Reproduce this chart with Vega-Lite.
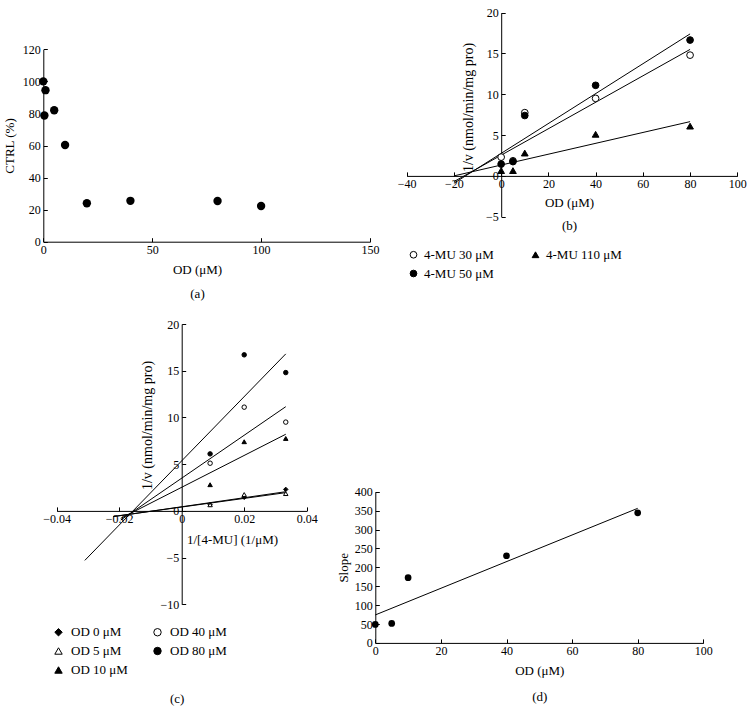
{
  "$schema": "https://vega.github.io/schema/vega-lite/v6.json",
  "width": 755,
  "height": 713,
  "autosize": "none",
  "padding": 0,
  "background": "white",
  "config": {
    "font": "Liberation Serif",
    "view": {"stroke": null},
    "axis": {
      "grid": false,
      "domainColor": "black",
      "tickColor": "black",
      "labelColor": "black",
      "titleColor": "black",
      "labelFont": "Liberation Serif",
      "titleFont": "Liberation Serif",
      "labelFontSize": 12,
      "titleFontSize": 13,
      "titleFontWeight": "normal",
      "tickSize": -4,
      "labelPadding": 7,
      "labelFlush": false,
      "labelOverlap": false,
      "titlePadding": 7,
      "domainWidth": 1,
      "tickWidth": 1,
      "format": "d"
    },
    "legend": {
      "labelFont": "Liberation Serif",
      "labelFontSize": 13,
      "labelColor": "black",
      "padding": 0,
      "symbolStrokeColor": "black",
      "symbolStrokeWidth": 1,
      "rowPadding": 5,
      "columns": 2
    },
    "title": {"font": "Liberation Serif", "fontSize": 13, "fontWeight": "normal", "color": "black"}
  },
  "title": {"text": "(c)", "orient": "bottom", "anchor": "start", "frame": "group", "offset": -14, "baseline": "middle", "dx": 170},
  "datasets": {
    "pa": [
      {"od": 0, "ctrl": 100},
      {"od": 1, "ctrl": 94.5},
      {"od": 0.5, "ctrl": 78.7},
      {"od": 5, "ctrl": 82},
      {"od": 10, "ctrl": 60.3},
      {"od": 20, "ctrl": 24},
      {"od": 40, "ctrl": 25.5},
      {"od": 80, "ctrl": 25.4},
      {"od": 100, "ctrl": 22.3}
    ],
    "pb": [
      {"od": 0, "inv": 2.3, "mu": "4-MU 30 μM"},
      {"od": 5, "inv": 1.85, "mu": "4-MU 30 μM"},
      {"od": 10, "inv": 7.75, "mu": "4-MU 30 μM"},
      {"od": 40, "inv": 9.5, "mu": "4-MU 30 μM"},
      {"od": 80, "inv": 14.8, "mu": "4-MU 30 μM"},
      {"od": 0, "inv": 1.45, "mu": "4-MU 50 μM"},
      {"od": 5, "inv": 1.75, "mu": "4-MU 50 μM"},
      {"od": 10, "inv": 7.4, "mu": "4-MU 50 μM"},
      {"od": 40, "inv": 11.1, "mu": "4-MU 50 μM"},
      {"od": 80, "inv": 16.65, "mu": "4-MU 50 μM"},
      {"od": 0, "inv": 0.65, "mu": "4-MU 110 μM"},
      {"od": 5, "inv": 0.65, "mu": "4-MU 110 μM"},
      {"od": 10, "inv": 2.8, "mu": "4-MU 110 μM"},
      {"od": 40, "inv": 5.1, "mu": "4-MU 110 μM"},
      {"od": 80, "inv": 6.1, "mu": "4-MU 110 μM"}
    ],
    "lb": [
      {"od": -20, "inv": -0.7, "mu": "4-MU 30 μM"},
      {"od": 80, "inv": 15.5, "mu": "4-MU 30 μM"},
      {"od": -20, "inv": -0.9, "mu": "4-MU 50 μM"},
      {"od": 80, "inv": 17.4, "mu": "4-MU 50 μM"},
      {"od": -20, "inv": 0.0, "mu": "4-MU 110 μM"},
      {"od": 80, "inv": 6.65, "mu": "4-MU 110 μM"}
    ],
    "pc": [
      {"s": 0.00909, "inv": 0.65, "od": "OD 0 μM"},
      {"s": 0.02, "inv": 1.45, "od": "OD 0 μM"},
      {"s": 0.0333, "inv": 2.3, "od": "OD 0 μM"},
      {"s": 0.00909, "inv": 0.65, "od": "OD 5 μM"},
      {"s": 0.02, "inv": 1.75, "od": "OD 5 μM"},
      {"s": 0.0333, "inv": 1.85, "od": "OD 5 μM"},
      {"s": 0.00909, "inv": 2.8, "od": "OD 10 μM"},
      {"s": 0.02, "inv": 7.4, "od": "OD 10 μM"},
      {"s": 0.0333, "inv": 7.75, "od": "OD 10 μM"},
      {"s": 0.00909, "inv": 5.1, "od": "OD 40 μM"},
      {"s": 0.02, "inv": 11.1, "od": "OD 40 μM"},
      {"s": 0.0333, "inv": 9.5, "od": "OD 40 μM"},
      {"s": 0.00909, "inv": 6.1, "od": "OD 80 μM"},
      {"s": 0.02, "inv": 16.7, "od": "OD 80 μM"},
      {"s": 0.0333, "inv": 14.8, "od": "OD 80 μM"}
    ],
    "lc": [
      {"s": -0.0219, "inv": -0.6, "od": "OD 0 μM"},
      {"s": 0.0333, "inv": 1.95, "od": "OD 0 μM"},
      {"s": -0.0219, "inv": -0.62, "od": "OD 5 μM"},
      {"s": 0.0333, "inv": 2.05, "od": "OD 5 μM"},
      {"s": -0.0195, "inv": -0.8, "od": "OD 10 μM"},
      {"s": 0.0333, "inv": 8.2, "od": "OD 10 μM"},
      {"s": -0.0195, "inv": -0.98, "od": "OD 40 μM"},
      {"s": 0.0333, "inv": 11.15, "od": "OD 40 μM"},
      {"s": -0.031, "inv": -5.3, "od": "OD 80 μM"},
      {"s": 0.0333, "inv": 16.8, "od": "OD 80 μM"}
    ],
    "pd": [
      {"od": 0, "slope": 49},
      {"od": 5, "slope": 51.5},
      {"od": 10, "slope": 172.5},
      {"od": 40, "slope": 230.5},
      {"od": 80, "slope": 344}
    ],
    "ld": [
      {"od": 0, "slope": 74},
      {"od": 80, "slope": 356}
    ]
  },
  "resolve": {
    "scale": {"x": "independent", "y": "independent", "shape": "independent", "fill": "independent", "stroke": "independent"},
    "axis": {"x": "independent", "y": "independent"},
    "legend": {"shape": "independent", "fill": "independent", "stroke": "independent"}
  },
  "layer": [
    {
      "data": {"name": "pa"},
      "mark": {"type": "point", "filled": true, "color": "black", "opacity": 1, "size": 70},
      "encoding": {
        "x": {
          "field": "od", "type": "quantitative",
          "scale": {"domain": [0, 150], "range": [43.3, 370], "nice": false, "zero": false},
          "axis": {"orient": "bottom", "offset": -471.3, "values": [0, 50, 100, 150], "title": ["OD (μM)", "(a)"], "titleLineHeight": 24, "titleX": 197, "titlePadding": 8}
        },
        "y": {
          "field": "ctrl", "type": "quantitative",
          "scale": {"domain": [0, 120], "range": [241.7, 49.3], "nice": false, "zero": false},
          "axis": {"orient": "left", "offset": -43.3, "values": [0, 20, 40, 60, 80, 100, 120], "title": "CTRL (%)", "titlePadding": 6}
        }
      }
    },
    {
      "encoding": {
        "x": {
          "field": "od", "type": "quantitative",
          "scale": {"domain": [-40, 100], "range": [406.7, 737.3], "nice": false, "zero": false},
          "axis": {"orient": "bottom", "offset": -537.1, "values": [-40, -20, 0, 20, 40, 60, 80, 100], "title": ["OD (μM)", "", "", "", "(b)"], "titleLineHeight": 22.6, "titleX": 569, "titlePadding": 7}
        },
        "y": {
          "field": "inv", "type": "quantitative",
          "scale": {"domain": [-5, 20], "range": [216.7, 12.7], "nice": false, "zero": false},
          "axis": {"orient": "left", "offset": -501.2, "values": [-5, 0, 5, 10, 15, 20], "title": "1/v (nmol/min/mg pro)", "titleFontSize": 14, "titlePadding": 10, "titleY": 107}
        }
      },
      "layer": [
        {
          "data": {"name": "lb"},
          "mark": {"type": "line", "color": "black", "strokeWidth": 1},
          "encoding": {"detail": {"field": "mu"}}
        },
        {
          "data": {"name": "pb"},
          "mark": {"type": "point", "filled": false, "opacity": 1, "size": 45, "strokeWidth": 1},
          "encoding": {
            "shape": {
              "field": "mu", "type": "nominal",
              "scale": {"domain": ["4-MU 30 μM", "4-MU 50 μM", "4-MU 110 μM"], "range": ["circle", "circle", "triangle-up"]},
              "legend": {"orient": "none", "legendX": 407, "legendY": 248, "title": null, "columns": 2, "columnPadding": 35, "symbolSize": 45, "labelOffset": 4}
            },
            "fill": {
              "field": "mu", "type": "nominal",
              "scale": {"domain": ["4-MU 30 μM", "4-MU 50 μM", "4-MU 110 μM"], "range": ["white", "black", "black"]},
              "legend": {"orient": "none", "legendX": 407, "legendY": 248, "title": null, "columns": 2, "columnPadding": 35, "symbolSize": 45, "labelOffset": 4}
            },
            "stroke": {
              "field": "mu", "type": "nominal",
              "scale": {"domain": ["4-MU 30 μM", "4-MU 50 μM", "4-MU 110 μM"], "range": ["black", "black", "black"]},
              "legend": {"orient": "none", "legendX": 407, "legendY": 248, "title": null, "columns": 2, "columnPadding": 35, "symbolSize": 45, "labelOffset": 4}
            }
          }
        }
      ]
    },
    {
      "encoding": {
        "x": {
          "field": "s", "type": "quantitative",
          "scale": {"domain": [-0.04, 0.04], "range": [56.7, 306.7], "nice": false, "zero": false},
          "axis": {"orient": "bottom", "offset": -202.1, "values": [-0.04, -0.02, 0, 0.02, 0.04], "format": ".2~f", "title": "1/[4-MU] (1/μM)", "titleX": 232, "titlePadding": 9}
        },
        "y": {
          "field": "inv", "type": "quantitative",
          "scale": {"domain": [-10, 20], "range": [604.3, 324], "nice": false, "zero": false},
          "axis": {"orient": "left", "offset": -181.7, "values": [-10, -5, 0, 5, 10, 15, 20], "title": "1/v (nmol/min/mg pro)", "titleFontSize": 14, "titlePadding": 5, "titleY": 425}
        }
      },
      "layer": [
        {
          "data": {"name": "lc"},
          "mark": {"type": "line", "color": "black", "strokeWidth": 1},
          "encoding": {"detail": {"field": "od"}}
        },
        {
          "data": {"name": "pc"},
          "mark": {"type": "point", "filled": false, "opacity": 1, "size": 20, "strokeWidth": 1},
          "encoding": {
            "shape": {
              "field": "od", "type": "nominal",
              "scale": {"domain": ["OD 0 μM", "OD 5 μM", "OD 10 μM", "OD 40 μM", "OD 80 μM"], "range": ["diamond", "triangle-up", "triangle-up", "circle", "circle"]},
              "legend": {"orient": "none", "legendX": 52, "legendY": 625.5, "title": null, "columns": 2, "columnPadding": 23, "symbolSize": 55, "labelOffset": 6}
            },
            "fill": {
              "field": "od", "type": "nominal",
              "scale": {"domain": ["OD 0 μM", "OD 5 μM", "OD 10 μM", "OD 40 μM", "OD 80 μM"], "range": ["black", "white", "black", "white", "black"]},
              "legend": {"orient": "none", "legendX": 52, "legendY": 625.5, "title": null, "columns": 2, "columnPadding": 23, "symbolSize": 55, "labelOffset": 6}
            },
            "stroke": {
              "field": "od", "type": "nominal",
              "scale": {"domain": ["OD 0 μM", "OD 5 μM", "OD 10 μM", "OD 40 μM", "OD 80 μM"], "range": ["black", "black", "black", "black", "black"]},
              "legend": {"orient": "none", "legendX": 52, "legendY": 625.5, "title": null, "columns": 2, "columnPadding": 23, "symbolSize": 55, "labelOffset": 6}
            }
          }
        }
      ]
    },
    {
      "encoding": {
        "x": {
          "field": "od", "type": "quantitative",
          "scale": {"domain": [0, 100], "range": [375.3, 703.3], "nice": false, "zero": false},
          "axis": {"orient": "bottom", "offset": -70.1, "values": [0, 20, 40, 60, 80, 100], "title": ["OD (μM)", "(d)"], "titleLineHeight": 26, "titlePadding": 8}
        },
        "y": {
          "field": "slope", "type": "quantitative",
          "scale": {"domain": [0, 400], "range": [642.9, 491.7], "nice": false, "zero": false},
          "axis": {"orient": "left", "offset": -375.3, "values": [0, 50, 100, 150, 200, 250, 300, 350, 400], "title": "Slope", "titlePadding": 4}
        }
      },
      "layer": [
        {
          "data": {"name": "ld"},
          "mark": {"type": "line", "color": "black", "strokeWidth": 1},
          "encoding": {}
        },
        {
          "data": {"name": "pd"},
          "mark": {"type": "point", "filled": true, "color": "black", "opacity": 1, "size": 45}
        }
      ]
    }
  ]
}
